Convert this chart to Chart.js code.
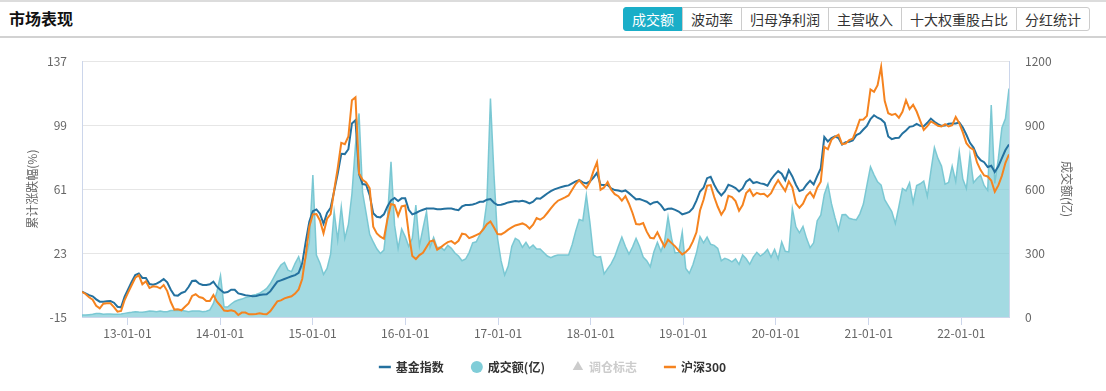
<!DOCTYPE html>
<html><head><meta charset="utf-8">
<script src="https://cdn.jsdelivr.net/npm/chart.js@4.4.1/dist/chart.umd.min.js"></script>
<style>
html,body{margin:0;padding:0;background:#fff;}
body{width:1106px;height:391px;position:relative;overflow:hidden;font-family:"Noto Sans CJK SC","Noto Sans",sans-serif;}
#hdr{position:absolute;left:0;top:0;width:1106px;height:38px;border-top:2px solid #dcdcdc;border-bottom:2px solid #d2d2d2;box-sizing:border-box;}
#ttl{position:absolute;left:9px;top:5px;font-size:16px;font-weight:bold;color:#111;line-height:22px;}
#tabs{position:absolute;left:623px;top:5px;display:flex;height:24px;}
.tab{box-sizing:border-box;height:24px;border:1px solid #ccc;margin-left:-1px;font-size:14px;line-height:22px;color:#333;text-align:center;background:#fff;}
.tab:first-child{margin-left:0;border-radius:3px 0 0 3px;}
.tab:last-child{border-radius:0 3px 3px 0;}
.tab.on{background:#1aaec8;border-color:#1aaec8;color:#fff;}
#wrap{position:absolute;left:0;top:38px;width:1106px;height:353px;}
</style></head>
<body>
<div id="hdr"><div id="ttl">市场表现</div>
<div id="tabs">
<div class="tab on" style="width:60px">成交额</div>
<div class="tab" style="width:60px">波动率</div>
<div class="tab" style="width:88px">归母净利润</div>
<div class="tab" style="width:74px">主营收入</div>
<div class="tab" style="width:116px">十大权重股占比</div>
<div class="tab" style="width:74px">分红统计</div>
</div></div>
<div id="wrap"><canvas id="c" width="1106" height="353"></canvas></div>
<script>
const fundIndex = [
0,-1.0,-2.0,-2.7,-4.5,-5.9,-5.9,-5.7,-5.5,-6.5,
-8.9,-9.3,-2.9,1.6,6.0,9.9,10.9,8.2,8.2,4.6,
4.2,4.8,6.0,7.6,5.6,1.2,-2.1,-2.3,-0.7,0.0,
2.8,6.4,6.6,4.8,4.0,4.0,4.4,6.0,3.0,1.0,
-0.6,-0.2,1.2,1.2,-1.0,-1.5,-2.1,-2.3,-2.7,-2.5,
-1.9,-1.7,-1.5,0.2,3.2,6.0,6.8,7.6,8.4,9.2,
9.9,11.3,16.9,29.7,41.6,47.9,48.9,46.4,40.4,46.8,
49.9,59.8,70.3,82.0,81.8,84.7,100.0,102.0,69.9,64.0,
63.6,57.4,46.6,44.6,44.2,46.0,50.7,54.3,55.7,53.9,
55.5,55.5,48.7,46.0,46.8,47.9,48.7,49.5,49.5,49.5,
49.1,49.1,49.3,49.5,49.5,48.9,48.5,50.7,51.5,51.5,
51.9,52.5,53.5,53.5,54.7,55.1,52.9,51.5,51.7,52.3,
53.1,53.5,53.9,53.7,54.1,53.5,52.5,53.5,55.5,55.3,
56.8,58.4,59.8,60.8,61.6,62.2,62.8,63.2,64.4,65.6,
66.3,65.0,64.4,65.6,67.9,70.7,63.6,63.4,63.4,61.4,
60.4,60.2,59.6,60.2,58.6,56.7,54.9,55.1,54.3,53.5,
51.9,53.1,53.5,51.5,48.5,49.3,49.5,48.7,47.7,46.0,
46.6,47.5,49.7,54.1,59.6,61.8,67.5,68.3,63.6,59.8,
57.2,59.6,63.6,62.8,61.6,59.6,61.4,65.4,66.9,64.6,
65.2,64.4,64.0,63.0,66.7,69.5,71.7,70.1,66.2,72.3,
68.5,63.6,59.8,60.6,63.6,66.0,63.8,68.7,73.3,91.9,
89.3,91.3,92.3,91.3,87.5,88.9,89.1,89.9,93.1,94.1,
96.4,98.6,102.6,104.9,103.4,102.4,100.4,92.3,90.7,91.3,
91.5,94.1,95.8,98.0,98.4,99.8,98.6,98.4,100.4,102.9,
101.0,99.6,98.6,98.8,99.8,100.0,100.0,100.6,97.6,93.3,
88.5,85.7,80.8,78.2,77.0,74.1,74.9,71.1,74.5,79.4,
84.2,87.5
];
const csi300 = [
0.0,-1.3,-3.3,-4.7,-8.3,-9.9,-7.1,-6.9,-6.9,-9.1,
-11.8,-11.4,-4.9,-0.4,4.0,8.3,9.9,4.4,6.2,2.2,
3.2,3.0,2.0,4.0,0.4,-6.1,-10.6,-10.4,-11.0,-8.9,
-6.9,-2.5,-1.5,-3.1,-3.7,-5.5,-5.5,-1.9,-5.9,-8.3,
-11.2,-11.4,-11.0,-11.6,-13.8,-12.4,-12.4,-13.4,-13.4,-13.2,
-12.8,-13.2,-13.4,-11.6,-8.7,-5.7,-5.1,-3.9,-3.3,-2.7,
-1.1,1.4,7.6,21.8,38.6,46.0,46.2,42.4,34.7,43.4,
46.2,60.4,73.5,88.5,87.7,92.3,113.8,115.6,70.3,66.5,
65.0,61.4,38.6,34.7,32.7,31.5,43.2,52.1,51.5,45.2,
50.7,51.3,34.5,21.2,19.4,21.8,23.2,26.6,30.0,30.5,
25.0,26.4,28.1,29.5,30.1,28.5,30.3,34.5,34.1,31.9,
32.7,33.7,34.7,37.1,40.2,41.8,38.2,34.3,34.1,35.3,
36.9,38.2,39.4,40.0,40.6,39.6,37.6,39.8,43.8,42.8,
44.2,46.8,49.5,52.1,54.1,55.1,56.1,57.2,60.6,64.0,
66.2,63.8,61.6,65.2,71.7,77.0,60.6,62.0,65.2,60.6,
58.0,56.8,54.1,56.8,52.3,46.8,40.2,40.0,40.8,35.7,
32.1,31.7,35.3,30.9,26.8,30.9,28.9,27.0,24.4,22.2,
23.6,25.8,29.9,35.3,48.3,54.7,63.0,63.4,56.3,50.5,
45.8,49.1,57.0,56.3,53.9,48.1,51.5,58.6,60.8,57.0,
58.8,58.0,58.2,56.5,58.6,62.8,66.3,63.0,59.8,65.6,
62.0,52.5,49.9,52.3,57.0,59.2,56.1,61.8,65.4,86.1,
84.7,90.3,92.1,93.3,87.7,88.1,90.1,90.9,96.2,102.2,
102.4,104.5,120.2,118.8,122.7,133.6,113.5,106.1,105.1,105.7,
103.4,106.9,113.8,108.5,111.1,107.1,101.6,96.2,98.4,101.2,
100.0,98.6,98.2,99.6,98.2,99.0,103.9,100.2,94.7,88.3,
85.7,84.4,76.8,72.3,69.1,68.5,66.1,59.4,63.2,68.9,
76.6,81.6
];
const turnover = [
9,9,11,13,16,16,13,14,14,13,
13,14,17,20,22,25,23,22,25,28,
27,25,28,25,25,30,31,30,31,28,
25,28,28,28,25,27,33,64,120,195,
48,47,61,73,80,84,91,95,102,106,
111,122,134,156,186,217,244,256,220,213,
252,283,228,275,353,666,291,252,200,228,
295,494,361,517,369,434,578,806,955,584,
487,388,352,320,298,314,462,728,431,322,
413,377,331,369,525,334,416,494,328,373,
325,328,313,336,322,300,286,264,272,302,
348,353,386,419,541,1025,666,369,263,197,
239,331,369,359,327,350,323,338,319,319,
303,286,278,286,291,291,291,291,339,403,
458,452,572,444,291,280,283,202,227,250,
283,331,375,331,295,328,369,331,281,264,
236,305,350,308,353,470,369,300,303,398,
228,205,245,300,377,348,375,341,336,322,
264,275,269,259,273,247,291,273,247,281,
303,286,298,317,281,317,273,352,308,305,
509,423,395,425,369,325,348,452,478,575,
623,533,467,408,480,481,463,459,456,484,
530,619,705,667,634,619,550,522,495,439,
519,603,592,630,536,617,625,638,567,684,
795,744,708,623,631,708,636,775,647,603,
759,630,650,666,617,594,994,627,744,888,
931,1072
];
const seriesNames = ['基金指数', '成交额(亿)', '调仓标志', '沪深300'];
const tickYears = [2013, 2014, 2015, 2016, 2017, 2018, 2019, 2020, 2021, 2022];
const tickLabels = ['13-01-01','14-01-01','15-01-01','16-01-01','17-01-01','18-01-01','19-01-01','20-01-01','21-01-01','22-01-01'];
const leftTicks = [-15, 23, 61, 99, 137];
const rightTicks = [0, 300, 600, 900, 1200];
const leftTitle = '累计涨跌幅(%)';
const rightTitle = '成交额(亿)';

const DAY = 86400000;
const startDay = Date.UTC(2012, 6, 6) / DAY;   // first sample, every 14 days
const dates = fundIndex.map((_, i) => startDay + i * 14);

Chart.defaults.font.family = '"Noto Sans CJK SC","Noto Sans",sans-serif';
Chart.defaults.font.size = 12;

const C_BLUE = '#24719f', C_ORANGE = '#f5831f', C_VOL = '#80cdd8', C_GREY = '#cccccc';

new Chart(document.getElementById('c'), {
  type: 'line',
  data: {
    labels: dates,
    datasets: [
      { label: seriesNames[0], data: fundIndex, yAxisID: 'y', borderColor: C_BLUE, borderWidth: 2,
        pointRadius: 0, tension: 0, fill: false, order: 1,
        lgColor: C_BLUE, lgStyle: 'line', lgText: '#333' },
      { label: seriesNames[1], data: turnover, yAxisID: 'y1', borderColor: 'rgba(118,198,210,0.95)', borderWidth: 1.5,
        backgroundColor: 'rgba(124,202,213,0.7)', fill: 'origin', pointRadius: 0, tension: 0, order: 2,
        lgColor: C_VOL, lgStyle: 'circle', lgText: '#333' },
      { label: seriesNames[2], data: [], yAxisID: 'y', hidden: true, showLine: false, pointStyle: 'triangle', order: 3,
        lgColor: C_GREY, lgStyle: 'triangle', lgText: C_GREY },
      { label: seriesNames[3], data: csi300, yAxisID: 'y', borderColor: C_ORANGE, borderWidth: 2,
        pointRadius: 0, tension: 0, fill: false, order: 0,
        lgColor: C_ORANGE, lgStyle: 'line', lgText: '#333' }
    ]
  },
  options: {
    responsive: false,
    animation: false,
    devicePixelRatio: 1,
    events: [],
    layout: { padding: { top: 23, bottom: 8, left: 0, right: 0 } },
    plugins: {
      tooltip: { enabled: false },
      legend: {
        position: 'bottom',
        labels: {
          usePointStyle: true, boxWidth: 10, boxHeight: 8.5, padding: 28,
          font: { size: 12, weight: 'bold' }, color: '#333',
          generateLabels: (chart) => chart.data.datasets.map((ds, i) => ({
            text: ds.label, fillStyle: ds.lgColor, strokeStyle: ds.lgColor,
            lineWidth: ds.lgStyle === 'line' ? 2.5 : 0, pointStyle: ds.lgStyle,
            fontColor: ds.lgText, hidden: false, datasetIndex: i
          }))
        }
      }
    },
    scales: {
      x: {
        type: 'linear', min: dates[0], max: dates[dates.length - 1],
        afterBuildTicks: (s) => { s.ticks = tickYears.map(y => ({ value: Date.UTC(y, 0, 1) / DAY })); },
        afterFit: (s) => { s.height = 16; s._computeLabelArea = () => undefined; },
        grid: { drawOnChartArea: false, drawTicks: true, tickLength: 8, color: '#ccd6eb' },
        border: { color: '#ccd6eb' },
        ticks: { autoSkip: false, maxRotation: 0, padding: 1, color: '#666',
          callback: (v, i) => tickLabels[i] }
      },
      y: {
        position: 'left', min: leftTicks[0], max: leftTicks[leftTicks.length - 1],
        afterBuildTicks: (s) => { s.ticks = leftTicks.map(v => ({ value: v })); },
        afterFit: (s) => { s.width = 82; },
        grid: { color: '#e6e6e6', drawTicks: false },
        border: { color: '#ccd6eb' },
        ticks: { padding: 15, color: '#666', callback: (v) => String(v) },
        title: { display: true, text: leftTitle, color: '#666', font: { size: 12 }, padding: { top: 25, bottom: 0 } }
      },
      y1: {
        position: 'right', min: rightTicks[0], max: rightTicks[rightTicks.length - 1],
        afterBuildTicks: (s) => { s.ticks = rightTicks.map(v => ({ value: v })); },
        afterFit: (s) => { s.width = 97; },
        grid: { drawOnChartArea: false, drawTicks: false },
        border: { color: '#ccd6eb' },
        ticks: { padding: 16, color: '#666', callback: (v) => String(v) },
        title: { display: true, text: rightTitle, color: '#666', font: { size: 12 }, padding: { top: 32, bottom: 0 } }
      }
    }
  }
});
</script>
</body></html>
